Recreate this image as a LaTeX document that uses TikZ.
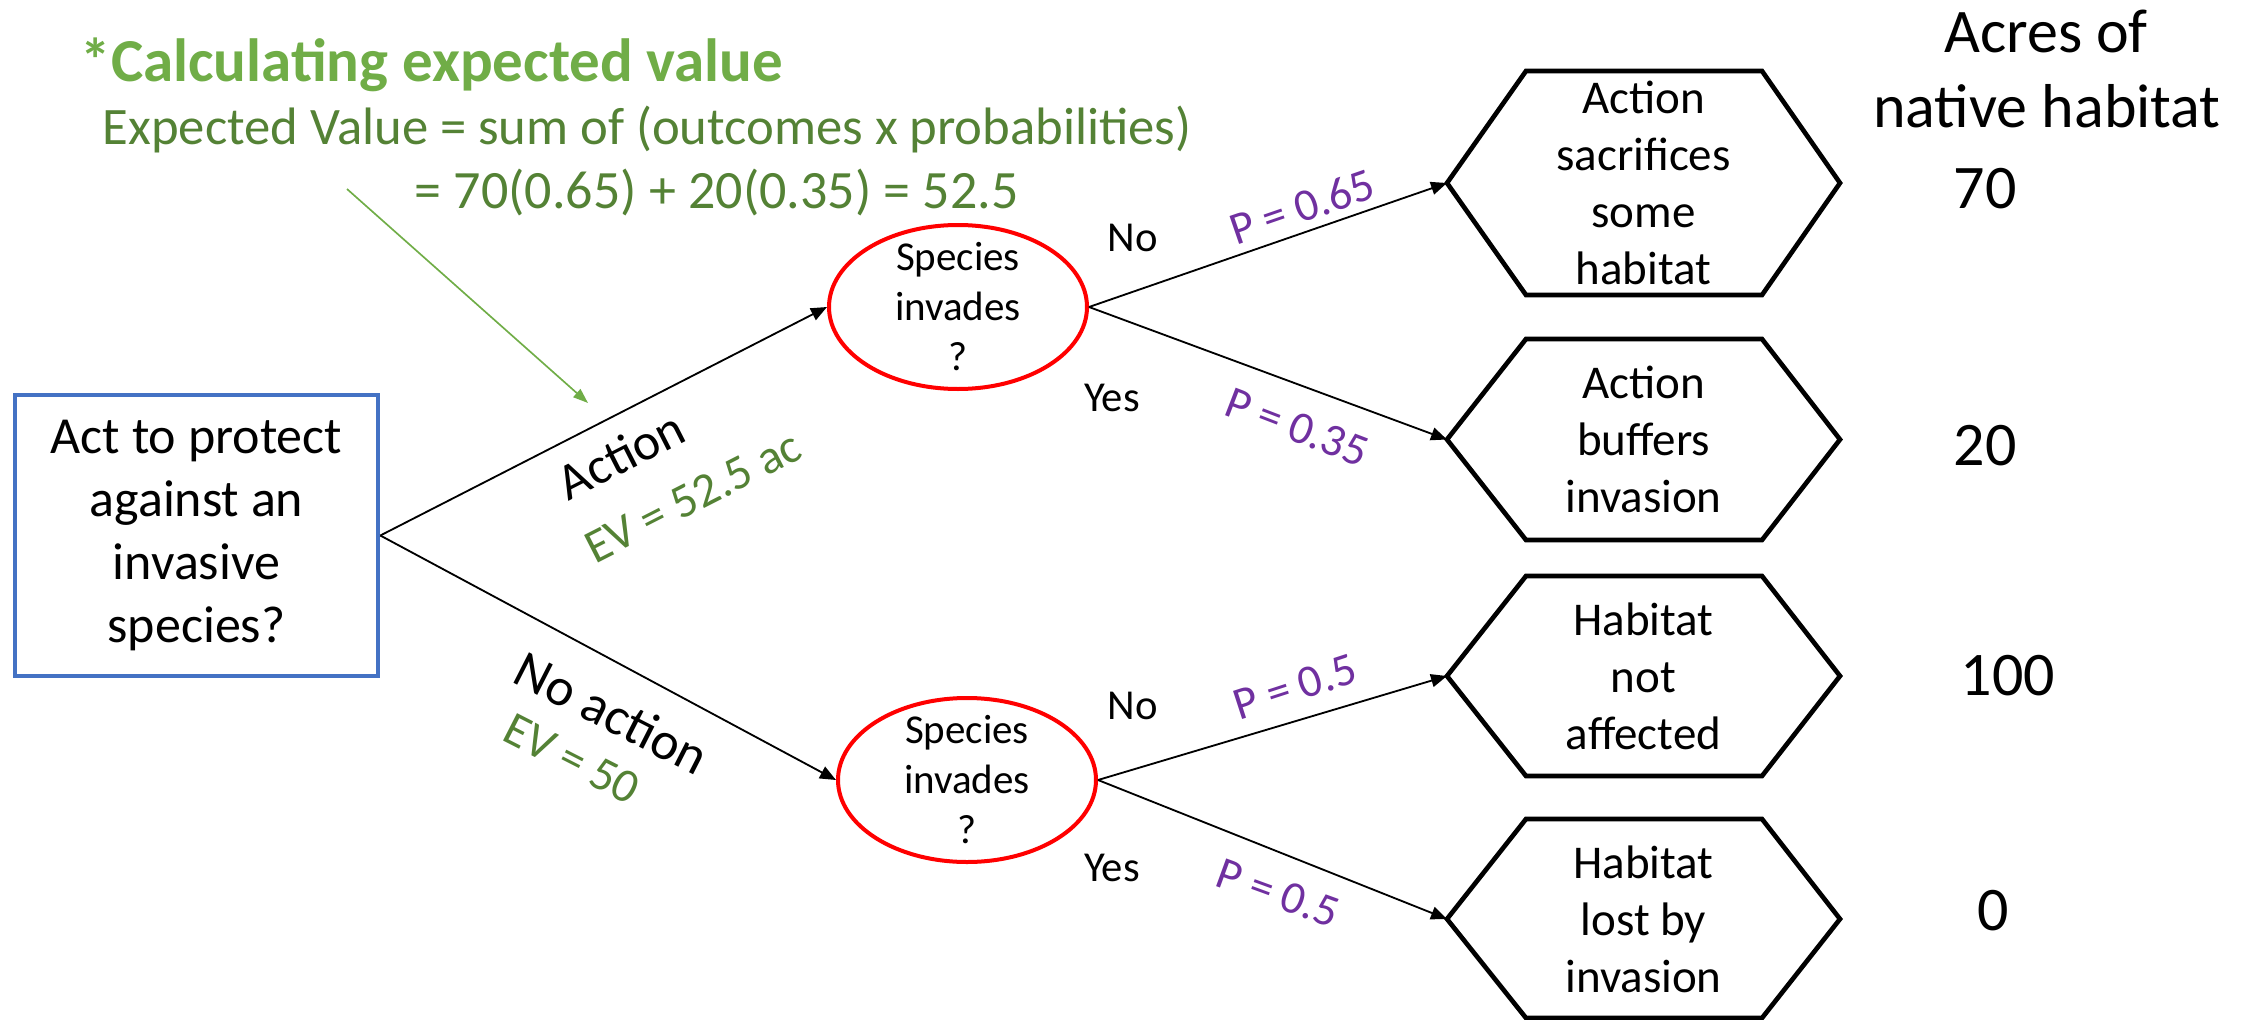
\documentclass[tikz,border=0pt]{standalone}
\usepackage{fontspec}
\setmainfont{Carlito}
\usetikzlibrary{arrows.meta,shapes.geometric}
\definecolor{titlegreen}{HTML}{70AD47}
\definecolor{darkgreen}{HTML}{548235}
\definecolor{probpurple}{HTML}{7030A0}
\definecolor{boxblue}{HTML}{4472C4}
\definecolor{chancered}{HTML}{FF0000}

\begin{document}
\begin{tikzpicture}[x=0.3pt,y=-0.3pt,
  decision/.style={draw=boxblue, line width=1.4pt, minimum width=108.9pt,
    minimum height=84.3pt, inner sep=0pt, align=center,
    font=\fontsize{15.6}{19}\selectfont},
  chance/.style={ellipse, draw=chancered, line width=1.2pt,
    minimum width=77.4pt, minimum height=49.2pt, inner sep=0pt},
  chancetext/.style={align=center, inner sep=0pt,
    font=\fontsize{12.3}{15}\selectfont},
  outcome/.style={draw=black, line width=1.4pt, line join=miter},
  outcometext/.style={align=center, inner sep=0pt,
    font=\fontsize{14.1}{17.1}\selectfont},
  branch/.style={draw=black, line width=0.55pt,
    -{Triangle[length=4.8pt,width=3.9pt]}},
  hint/.style={draw=titlegreen, line width=0.5pt,
    -{Triangle[length=4.5pt,width=3.2pt]}},
  branchlabel/.style={inner sep=0pt, font=\fontsize{15.5}{18}\selectfont},
  evlabel/.style={inner sep=0pt, text=darkgreen,
    font=\fontsize{14.4}{17}\selectfont},
  answer/.style={inner sep=0pt, font=\fontsize{12.8}{15}\selectfont},
  prob/.style={inner sep=0pt, text=probpurple,
    font=\fontsize{13.8}{16}\selectfont},
  acres/.style={inner sep=0pt, font=\fontsize{18.6}{22}\selectfont},
  formula/.style={inner sep=0pt, anchor=base west, text=darkgreen}
]
\useasboundingbox (0,0) rectangle (2247,1020);

% explanation of the expected value
\node[inner sep=0pt, anchor=base west, text=titlegreen,
  font=\bfseries\fontsize{18.3}{22}\selectfont] (title) at (80,81)
  {*Calculating expected value};
\node[formula, font=\fontsize{15.8}{18}\selectfont] (def) at (102,144)
  {Expected Value = sum of (outcomes x probabilities)};
\node[formula, font=\fontsize{16.2}{18}\selectfont] (calc) at (414,208)
  {= 70(0.65) + 20(0.35) = 52.5};
\coordinate (hintstart) at (347,189);
\coordinate (hintend) at (588,403);
\draw[hint] (hintstart) -- (hintend);

% decision node
\node[decision] (root) at (196.5,535.5)
  {Act to protect\\against an\\invasive\\species?};

% chance nodes
\node[chance] (c1) at (958,307) {};
\node[chancetext] (c1t) at (c1) {Species\\invades\\?};
\node[chance] (c2) at (967,780) {};
\node[chancetext] (c2t) at (c2) {Species\\invades\\?};

% outcome hexagons
\draw[outcome] (1447,183) coordinate (h1w) -- (1526,71) -- (1762,71)
  -- (1840,183) -- (1762,295) -- (1526,295) -- cycle;
\node[outcometext] (h1) at (1643.5,183)
  {Action\\sacrifices\\some\\habitat};
\draw[outcome] (1447,439.5) coordinate (h2w) -- (1526,339) -- (1762,339)
  -- (1840,439.5) -- (1762,540) -- (1526,540) -- cycle;
\node[outcometext] (h2) at (1643.5,439.5) {Action\\buffers\\invasion};
\draw[outcome] (1447,676) coordinate (h3w) -- (1526,576) -- (1762,576)
  -- (1840,676) -- (1762,776) -- (1526,776) -- cycle;
\node[outcometext] (h3) at (1643.5,676) {Habitat\\not\\affected};
\draw[outcome] (1447,919) coordinate (h4w) -- (1526,819) -- (1762,819)
  -- (1840,919) -- (1762,1018) -- (1526,1018) -- cycle;
\node[outcometext] (h4) at (1643.5,919) {Habitat\\lost by\\invasion};

% branches
\draw[branch] (root.east) -- (c1.west);
\draw[branch] (root.east) -- (c2.west);
\draw[branch] (c1.east) -- (h1w);
\draw[branch] (c1.east) -- (h2w);
\draw[branch] (c2.east) -- (h3w);
\draw[branch] (c2.east) -- (h4w);

% branch labels
\node[branchlabel, rotate=27] (lact) at (621,455) {Action};
\node[evlabel, rotate=27] (evact) at (693,497) {EV = 52.5 ac};
\node[branchlabel, rotate=-27, font=\fontsize{16}{18}\selectfont]
  (lnoact) at (612,713) {No action};
\node[evlabel, rotate=-27] (evnoact) at (572,759) {EV = 50};

\node[answer] (no1) at (1133,238) {No};
\node[answer] (yes1) at (1112,398) {Yes};
\node[answer] (no2) at (1133,706) {No};
\node[answer] (yes2) at (1112,868) {Yes};

\node[prob, rotate=19] (p1) at (1302,207) {P = 0.65};
\node[prob, rotate=-21] (p2) at (1297,427) {P = 0.35};
\node[prob, rotate=18] (p3) at (1295,687) {P = 0.5};
\node[prob, rotate=-20] (p4) at (1278,893) {P = 0.5};

% payoff column
\node[acres, anchor=base] (hd1) at (2046,52) {Acres of};
\node[acres, anchor=base] (hd2) at (2047,128) {native habitat};
\node[acres, anchor=base] (v1) at (1985,208) {70};
\node[acres, anchor=base] (v2) at (1985,465) {20};
\node[acres, anchor=base] (v3) at (2008,695) {100};
\node[acres, anchor=base] (v4) at (1993,930) {0};
\end{tikzpicture}
\end{document}
